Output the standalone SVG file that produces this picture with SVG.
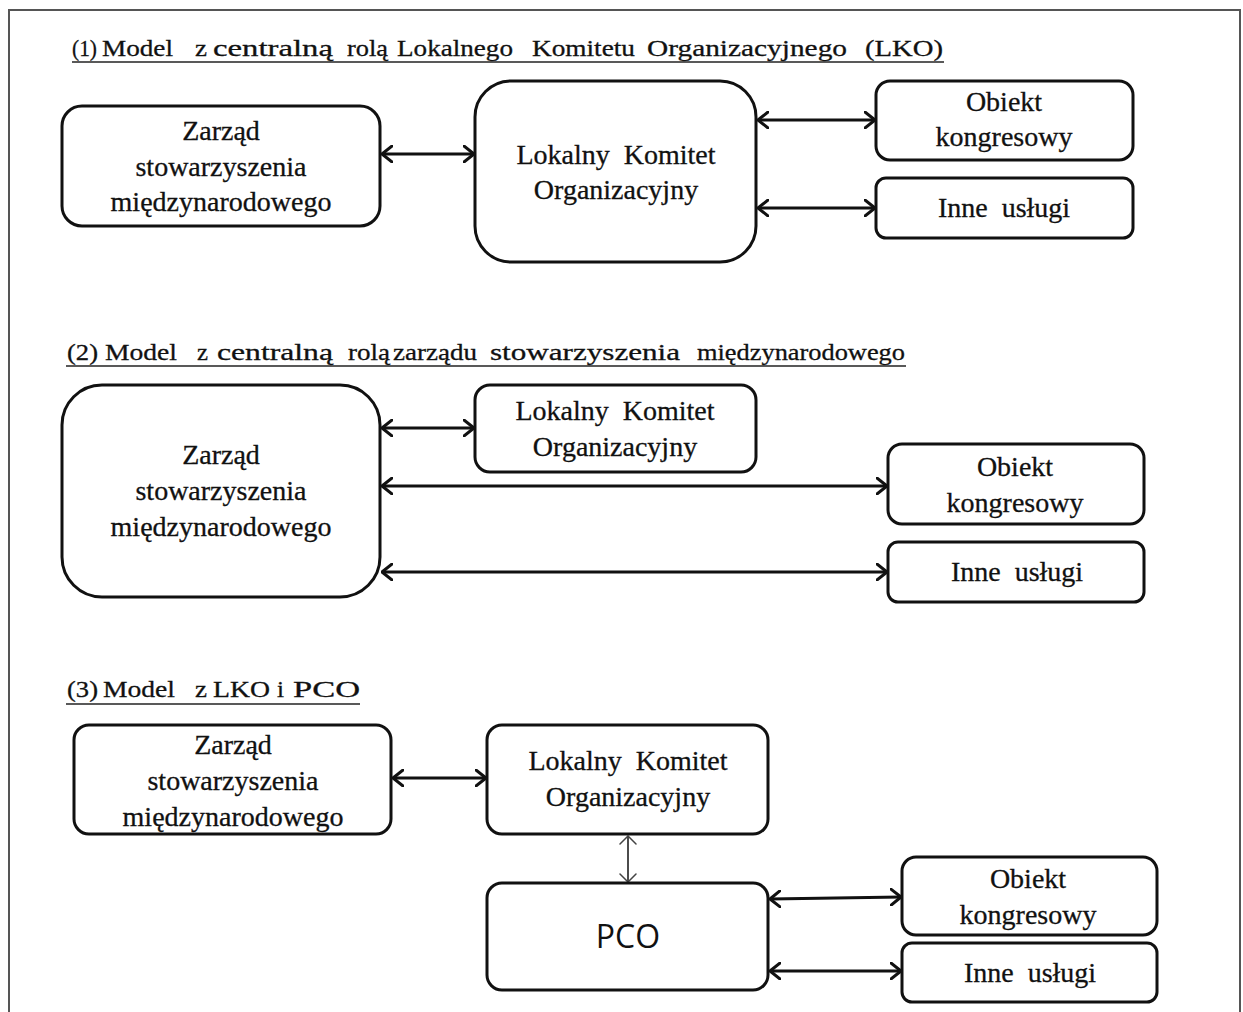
<svg xmlns="http://www.w3.org/2000/svg" width="1243" height="1012" viewBox="0 0 1243 1012">
  <style>
    .box { fill: #fff; stroke: #111; stroke-width: 3; }
    .lbl { font-family: "Liberation Serif", "Times New Roman", serif; font-size: 28px; fill: #111; stroke: #111; stroke-width: 0.3; text-anchor: middle; }
    .title text { font-family: "Liberation Serif", "Times New Roman", serif; font-size: 24px; fill: #111; stroke: #111; stroke-width: 0.3; }
    .uline { stroke: #222; stroke-width: 1.6; }
    .sans { font-family: "Open Sans", "Liberation Sans", sans-serif; font-size: 32px; fill: #111; text-anchor: middle; }
    .link { fill: none; stroke: #111; stroke-width: 3; marker-start: url(#head); marker-end: url(#head); }
    .thin { fill: none; stroke: #111; stroke-width: 1.5; marker-start: url(#headThin); marker-end: url(#headThin); }
  </style>
  <defs>
    <marker id="head" viewBox="0 0 12 18" refX="11" refY="9" markerWidth="12" markerHeight="18" markerUnits="userSpaceOnUse" orient="auto-start-reverse">
      <path d="M1,1 L11,9 L1,17" fill="none" stroke="#111" stroke-width="3" stroke-linecap="round" stroke-linejoin="round"/>
    </marker>
    <marker id="headThin" viewBox="0 0 10 18" refX="9" refY="9" markerWidth="10" markerHeight="18" markerUnits="userSpaceOnUse" orient="auto-start-reverse">
      <path d="M1,1 L9,9 L1,17" fill="none" stroke="#444" stroke-width="1.5" stroke-linecap="round"/>
    </marker>
  </defs>

  <rect width="1243" height="1012" fill="#fff"/>
  <!-- outer frame -->
  <path d="M9,1012 V10 H1240 V1012" fill="none" stroke="#555" stroke-width="2"/>

  <!-- section titles: each word fitted to its own width, underline drawn below -->
  <g id="title-1" class="title">
    <text x="72" y="56" textLength="25" lengthAdjust="spacingAndGlyphs">(1)</text>
    <text x="102" y="56" textLength="71" lengthAdjust="spacingAndGlyphs">Model</text>
    <text x="195" y="56" textLength="12" lengthAdjust="spacingAndGlyphs">z</text>
    <text x="213" y="56" textLength="120" lengthAdjust="spacingAndGlyphs">centralną</text>
    <text x="347" y="56" textLength="41" lengthAdjust="spacingAndGlyphs">rolą</text>
    <text x="397" y="56" textLength="116" lengthAdjust="spacingAndGlyphs">Lokalnego</text>
    <text x="532" y="56" textLength="103" lengthAdjust="spacingAndGlyphs">Komitetu</text>
    <text x="647" y="56" textLength="200" lengthAdjust="spacingAndGlyphs">Organizacyjnego</text>
    <text x="865" y="56" textLength="78" lengthAdjust="spacingAndGlyphs">(LKO)</text>
    <line class="uline" x1="72" y1="62" x2="944" y2="62"/>
  </g>
  <g id="title-2" class="title">
    <text x="67" y="360" textLength="31" lengthAdjust="spacingAndGlyphs">(2)</text>
    <text x="105" y="360" textLength="72" lengthAdjust="spacingAndGlyphs">Model</text>
    <text x="197" y="360" textLength="11" lengthAdjust="spacingAndGlyphs">z</text>
    <text x="217" y="360" textLength="116" lengthAdjust="spacingAndGlyphs">centralną</text>
    <text x="348" y="360" textLength="42" lengthAdjust="spacingAndGlyphs">rolą</text>
    <text x="393" y="360" textLength="84" lengthAdjust="spacingAndGlyphs">zarządu</text>
    <text x="490" y="360" textLength="190" lengthAdjust="spacingAndGlyphs">stowarzyszenia</text>
    <text x="697" y="360" textLength="208" lengthAdjust="spacingAndGlyphs">międzynarodowego</text>
    <line class="uline" x1="66" y1="366" x2="906" y2="366"/>
  </g>
  <g id="title-3" class="title">
    <text x="67" y="697" textLength="31" lengthAdjust="spacingAndGlyphs">(3)</text>
    <text x="103" y="697" textLength="72" lengthAdjust="spacingAndGlyphs">Model</text>
    <text x="195" y="697" textLength="12" lengthAdjust="spacingAndGlyphs">z</text>
    <text x="213" y="697" textLength="57" lengthAdjust="spacingAndGlyphs">LKO</text>
    <text x="277" y="697" textLength="7" lengthAdjust="spacingAndGlyphs">i</text>
    <text x="293" y="697" textLength="67" lengthAdjust="spacingAndGlyphs">PCO</text>
    <line class="uline" x1="66" y1="704" x2="360" y2="704"/>
  </g>

  <!-- connectors -->
  <g id="connectors">
    <line class="link" x1="382" y1="154" x2="474" y2="154"/>
    <line class="link" x1="758" y1="120" x2="875" y2="120"/>
    <line class="link" x1="758" y1="208" x2="875" y2="208"/>

    <line class="link" x1="382" y1="428" x2="474" y2="428"/>
    <line class="link" x1="382" y1="486" x2="887" y2="486"/>
    <line class="link" x1="382" y1="572" x2="887" y2="572"/>

    <line class="link" x1="393" y1="778" x2="486" y2="778"/>
    <line class="thin" x1="628" y1="836" x2="628" y2="882"/>
    <line class="link" x1="770" y1="899" x2="901" y2="897"/>
    <line class="link" x1="770" y1="971" x2="901" y2="971"/>
  </g>

  <!-- model 1 -->
  <g id="m1-zarzad">
    <rect class="box" x="62" y="106" width="318" height="120" rx="20"/>
    <text class="lbl" x="221" y="140">Zarząd</text>
    <text class="lbl" x="221" y="176">stowarzyszenia</text>
    <text class="lbl" x="221" y="211">międzynarodowego</text>
  </g>
  <g id="m1-lko">
    <rect class="box" x="475" y="81" width="281" height="181" rx="36"/>
    <text class="lbl" x="616" y="164" xml:space="preserve">Lokalny  Komitet</text>
    <text class="lbl" x="616" y="199">Organizacyjny</text>
  </g>
  <g id="m1-obiekt">
    <rect class="box" x="876" y="81" width="257" height="79" rx="14"/>
    <text class="lbl" x="1004" y="111">Obiekt</text>
    <text class="lbl" x="1004" y="146">kongresowy</text>
  </g>
  <g id="m1-inne">
    <rect class="box" x="876" y="178" width="257" height="60" rx="10"/>
    <text class="lbl" x="1004" y="217" xml:space="preserve">Inne  usługi</text>
  </g>

  <!-- model 2 -->
  <g id="m2-zarzad">
    <rect class="box" x="62" y="385" width="318" height="212" rx="40"/>
    <text class="lbl" x="221" y="464">Zarząd</text>
    <text class="lbl" x="221" y="500">stowarzyszenia</text>
    <text class="lbl" x="221" y="536">międzynarodowego</text>
  </g>
  <g id="m2-lko">
    <rect class="box" x="475" y="385" width="281" height="87" rx="15"/>
    <text class="lbl" x="615" y="420" xml:space="preserve">Lokalny  Komitet</text>
    <text class="lbl" x="615" y="456">Organizacyjny</text>
  </g>
  <g id="m2-obiekt">
    <rect class="box" x="888" y="444" width="256" height="80" rx="14"/>
    <text class="lbl" x="1015" y="476">Obiekt</text>
    <text class="lbl" x="1015" y="512">kongresowy</text>
  </g>
  <g id="m2-inne">
    <rect class="box" x="888" y="542" width="256" height="60" rx="10"/>
    <text class="lbl" x="1017" y="581" xml:space="preserve">Inne  usługi</text>
  </g>

  <!-- model 3 -->
  <g id="m3-zarzad">
    <rect class="box" x="74" y="725" width="317" height="109" rx="15"/>
    <text class="lbl" x="233" y="754">Zarząd</text>
    <text class="lbl" x="233" y="790">stowarzyszenia</text>
    <text class="lbl" x="233" y="826">międzynarodowego</text>
  </g>
  <g id="m3-lko">
    <rect class="box" x="487" y="725" width="281" height="109" rx="15"/>
    <text class="lbl" x="628" y="770" xml:space="preserve">Lokalny  Komitet</text>
    <text class="lbl" x="628" y="806">Organizacyjny</text>
  </g>
  <g id="m3-pco">
    <rect class="box" x="487" y="883" width="281" height="107" rx="15"/>
    <text class="sans" x="628" y="948">PCO</text>
  </g>
  <g id="m3-obiekt">
    <rect class="box" x="902" y="857" width="255" height="78" rx="14"/>
    <text class="lbl" x="1028" y="888">Obiekt</text>
    <text class="lbl" x="1028" y="924">kongresowy</text>
  </g>
  <g id="m3-inne">
    <rect class="box" x="902" y="943" width="255" height="59" rx="10"/>
    <text class="lbl" x="1030" y="982" xml:space="preserve">Inne  usługi</text>
  </g>
</svg>
